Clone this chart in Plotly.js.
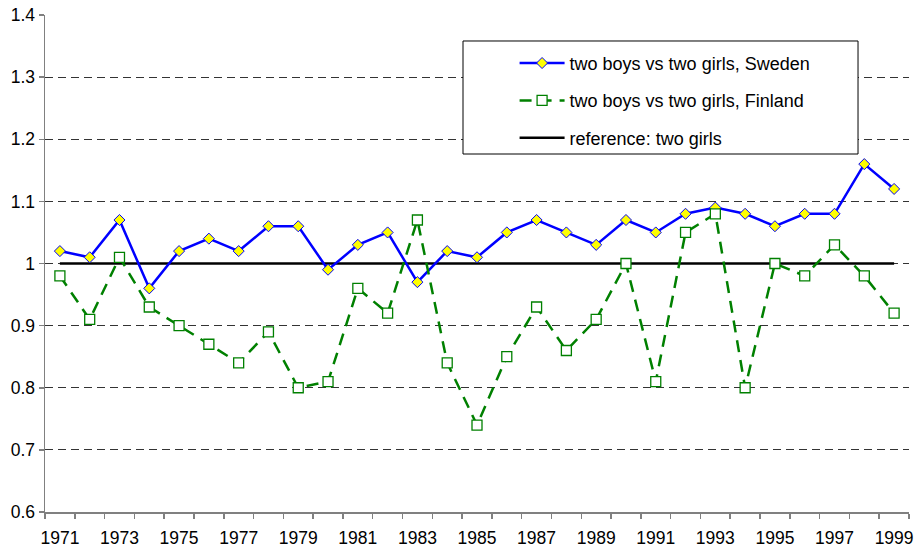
<!DOCTYPE html>
<html>
<head>
<meta charset="utf-8">
<script src="https://cdn.plot.ly/plotly-3.0.1.min.js"></script>
<style>html,body{margin:0;padding:0;background:#fff;}#chart{width:917px;height:549px;}</style>
</head>
<body>
<div id="chart"></div>
<script>
const years = [1971,1972,1973,1974,1975,1976,1977,1978,1979,1980,1981,1982,1983,1984,1985,1986,1987,1988,1989,1990,1991,1992,1993,1994,1995,1996,1997,1998,1999];
const sweden = [1.02,1.01,1.07,0.96,1.02,1.04,1.02,1.06,1.06,0.99,1.03,1.05,0.97,1.02,1.01,1.05,1.07,1.05,1.03,1.07,1.05,1.08,1.09,1.08,1.06,1.08,1.08,1.16,1.12];
const finland = [0.98,0.91,1.01,0.93,0.90,0.87,0.84,0.89,0.80,0.81,0.96,0.92,1.07,0.84,0.74,0.85,0.93,0.86,0.91,1.00,0.81,1.05,1.08,0.80,1.00,0.98,1.03,0.98,0.92];
const reference = [1,1,1,1,1,1,1,1,1,1,1,1,1,1,1,1,1,1,1,1,1,1,1,1,1,1,1,1,1];
const xTickVals = [1971,1973,1975,1977,1979,1981,1983,1985,1987,1989,1991,1993,1995,1997,1999];
const xTickText = ["1971","1973","1975","1977","1979","1981","1983","1985","1987","1989","1991","1993","1995","1997","1999"];
const names = ["two boys vs two girls, Sweden","two boys vs two girls, Finland","reference: two girls"];

const FONT = "Liberation Sans, Arial, sans-serif";

const traces = [
  {x: years, y: reference, name: names[2], legendgroup: "c", legendrank: 3, mode: "lines",
   line: {color: "#000000", width: 2.5}},
  {x: years, y: sweden, name: names[0], legendgroup: "a", legendrank: 1, mode: "lines+markers",
   line: {color: "#0000FF", width: 2.5},
   marker: {symbol: "diamond", size: 8.5, color: "#FFFF00", line: {color: "#0000FF", width: 1}}},
  {x: years, y: finland, name: names[1], legendgroup: "b", legendrank: 2, mode: "lines+markers",
   line: {color: "#008000", width: 2.5, dash: "12px,8px"},
   marker: {symbol: "square", size: 10, color: "#FFFFFF", line: {color: "#008000", width: 1.3}}}
];

const layout = {
  width: 917, height: 549,
  margin: {l: 45, r: 8, t: 15, b: 37, pad: 0},
  paper_bgcolor: "#FFFFFF", plot_bgcolor: "#FFFFFF",
  font: {family: FONT, size: 17.5, color: "#000000"},
  showlegend: true,
  legend: {
    x: 0.5435, y: 0.94, xanchor: "left", yanchor: "top",
    bgcolor: "rgba(0,0,0,0)", borderwidth: 0,
    font: {family: FONT, size: 18, color: "#000000"},
    traceorder: "grouped", tracegroupgap: 11, itemwidth: 45
  },
  xaxis: {
    range: [1970.5, 1999.5], tickmode: "array", tickvals: xTickVals, ticktext: xTickText,
    ticks: "", showgrid: false, zeroline: false,
    showline: true, linecolor: "#808080", linewidth: 1.5,
    tickfont: {family: FONT, size: 17.5}, ticklabelstandoff: 9,
    minor: {tick0: 1970.5, dtick: 1, ticks: "outside", ticklen: 5, tickcolor: "#808080", tickwidth: 1.5, showgrid: false}
  },
  yaxis: {
    range: [0.6, 1.4], dtick: 0.1, tick0: 0.6,
    ticks: "outside", ticklen: 5, tickcolor: "#808080", tickwidth: 1.5,
    showline: true, linecolor: "#808080", linewidth: 1.5,
    showgrid: true, gridcolor: "#333333", gridwidth: 1, griddash: "8px,5px",
    zeroline: false, tickfont: {family: FONT, size: 17.5}
  },
  shapes: [
    {type: "rect", xref: "paper", yref: "paper", x0: 0.4838, x1: 0.941, y0: 0.7203, y1: 0.9477,
     line: {color: "#000000", width: 1}, fillcolor: "#FFFFFF", layer: "above"}
  ]
};

Plotly.newPlot("chart", traces, layout, {displayModeBar: false, staticPlot: true});
</script>
</body>
</html>
